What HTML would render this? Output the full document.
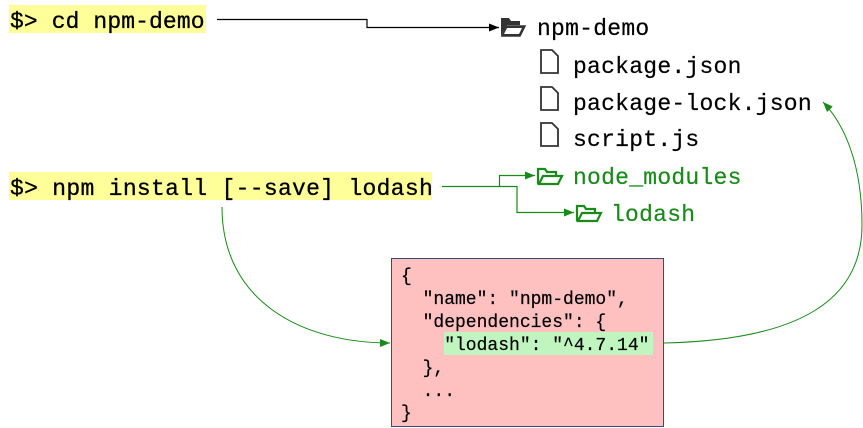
<!DOCTYPE html>
<html><head><meta charset="utf-8"><style>
html,body{margin:0;padding:0;background:#fff;width:863px;height:428px;overflow:hidden}
svg{display:block}
text{font-family:"Liberation Mono",monospace}
</style></head><body>
<svg width="863" height="428" viewBox="0 0 863 428" xmlns="http://www.w3.org/2000/svg">
<defs>
<marker id="ab" markerWidth="10" markerHeight="8" refX="10" refY="4" orient="auto" markerUnits="userSpaceOnUse"><path d="M0,0 L10,4 L0,8 z" fill="#000"/></marker>
<marker id="ag" markerWidth="10" markerHeight="8" refX="10" refY="4" orient="auto" markerUnits="userSpaceOnUse"><path d="M0,0 L10,4 L0,8 z" fill="#1a8a1a"/></marker>
</defs>
<rect x="9" y="5" width="197" height="28" fill="#ffff99"/>
<text x="10" y="28" font-size="23" letter-spacing="0.1" fill="#000" stroke="#000" stroke-width="0.3">$&gt; cd npm-demo</text>
<rect x="9" y="172" width="423" height="28" fill="#ffff99"/>
<text x="10" y="195" font-size="23" letter-spacing="0.3" fill="#000" stroke="#000" stroke-width="0.3">$&gt; npm install [--save] lodash</text>
<path d="M217,19.5 H367 V27.5 H499" fill="none" stroke="#000" stroke-width="1.2" marker-end="url(#ab)"/>
<path d="M501,18 h8 l2,3 h9 v4 h-13 l-6,11 z" fill="#333"/>
<path d="M502,36 l5,-10 h18 l-5,10 z" fill="#333" stroke="#333" stroke-width="1.5"/>
<path d="M507,28 h15 l-3,6 h-15 z" fill="#fff"/>
<text x="537" y="35" font-size="23" letter-spacing="0.25" fill="#000" stroke="#000" stroke-width="0.2">npm-demo</text>
<g fill="none" stroke="#333" stroke-width="1.8">
<path d="M541,50 h11 l6,6 v17 h-17 z"/>
<path d="M541,87 h11 l6,6 v17 h-17 z"/>
<path d="M541,123 h11 l6,6 v17 h-17 z"/>
</g>
<g stroke="#000" stroke-width="0.2">
<text x="573" y="73" font-size="23" letter-spacing="0.25" fill="#000">package.json</text>
<text x="573" y="110" font-size="23" letter-spacing="0.25" fill="#000">package-lock.json</text>
<text x="573" y="146" font-size="23" letter-spacing="0.25" fill="#000">script.js</text>
</g>
<g fill="none" stroke="#1a8a1a" stroke-width="2.2">
<path d="M538,184 v-15 h7 l2,3 h9 v3"/><path d="M539,184 l4,-8 h19 l-4,8 z"/>
<path d="M577,221 v-15 h7 l2,3 h9 v3"/><path d="M578,221 l4,-8 h19 l-4,8 z"/>
</g>
<g stroke="#1a8a1a" stroke-width="0.2">
<text x="573" y="184" font-size="23" letter-spacing="0.25" fill="#1a8a1a">node_modules</text>
<text x="611" y="221" font-size="23" letter-spacing="0.25" fill="#1a8a1a">lodash</text>
</g>
<path d="M442,186.5 H517 V212.5 H574" fill="none" stroke="#1a8a1a" stroke-width="1.2" marker-end="url(#ag)"/>
<path d="M499.5,186.5 V175.5 H535" fill="none" stroke="#1a8a1a" stroke-width="1.2" marker-end="url(#ag)"/>
<rect x="391.5" y="258.5" width="272" height="168" fill="#ffc0c0" stroke="#3a4a7a" stroke-width="1"/>
<rect x="444" y="332" width="209" height="23" fill="#c0f5c0"/>
<g font-size="18" fill="#000" stroke="#000" stroke-width="0.2">
<text x="401" y="281">{</text>
<text x="401" y="304" xml:space="preserve">  "name": "npm-demo",</text>
<text x="401" y="327" xml:space="preserve">  "dependencies": {</text>
<text x="401" y="350" xml:space="preserve">    "lodash": "^4.7.14"</text>
<text x="401" y="373" xml:space="preserve">  },</text>
<text x="401" y="396" xml:space="preserve">  ...</text>
<text x="401" y="418">}</text>
</g>
<path d="M222,207 C222,300 300,343 390,343" fill="none" stroke="#1a8a1a" stroke-width="1" marker-end="url(#ag)"/>
<path d="M664,343 C800,340 862,300 862,225 C862,165 845,125 823,102" fill="none" stroke="#1a8a1a" stroke-width="1" marker-end="url(#ag)"/>
</svg>
</body></html>
